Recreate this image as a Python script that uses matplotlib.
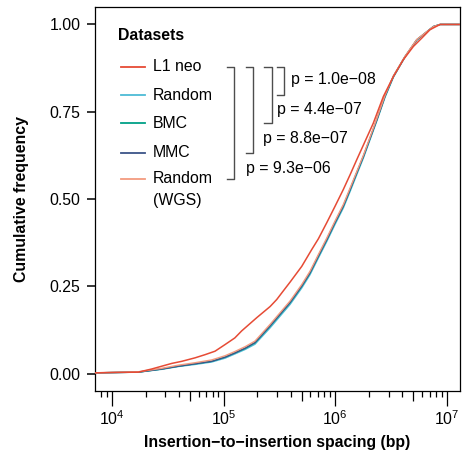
import matplotlib
matplotlib.use("Agg")
import matplotlib.pyplot as plt
from matplotlib.ticker import FixedLocator, FixedFormatter, NullFormatter

plt.rcParams["font.family"] = ["Liberation Sans", "DejaVu Sans"]
plt.rcParams["font.size"] = 11.4

# ---- data (spacing in bp -> cumulative frequency)
l1_bp = [7000, 10000, 17200, 22700, 27900, 34300, 42200, 55500, 68100, 83800,
         103000, 126000, 145000, 198000, 261000, 299000, 343000, 394000, 501000,
         615000, 706000, 839000, 995000, 1.18e6, 1.36e6, 1.56e6, 2.19e6, 2.70e6,
         3.32e6, 4.07e6, 5.01e6, 5.96e6, 7.06e6, 8.69e6, 1.4e7]
l1_neo = [0.002, 0.003, 0.004, 0.013, 0.021, 0.029, 0.035, 0.045, 0.054, 0.064,
          0.083, 0.102, 0.122, 0.160, 0.192, 0.212, 0.237, 0.262, 0.307,
          0.355, 0.386, 0.432, 0.479, 0.527, 0.570, 0.613, 0.717, 0.794,
          0.851, 0.899, 0.937, 0.961, 0.985, 1.0, 1.0]

ctrl_bp = [7000, 17200, 27900, 39300, 55500, 78200, 103000, 126000, 156000, 191000,
           261000, 394000, 501000, 594000, 706000, 839000, 995000, 1.18e6, 1.36e6,
           1.56e6, 1.79e6, 2.36e6, 2.79e6, 3.32e6, 4.22e6, 5.37e6, 7.57e6, 8.69e6, 1.4e7]
random_ = [0.002, 0.004, 0.012, 0.020, 0.026, 0.033, 0.044, 0.056, 0.069, 0.084,
           0.131, 0.198, 0.245, 0.283, 0.331, 0.378, 0.427, 0.474, 0.522,
           0.570, 0.618, 0.724, 0.791, 0.849, 0.907, 0.955, 0.994, 1.0, 1.0]
bmc = [0.002, 0.004, 0.013, 0.021, 0.028, 0.035, 0.047, 0.059, 0.072, 0.088,
       0.136, 0.203, 0.250, 0.288, 0.336, 0.383, 0.432, 0.479, 0.527,
       0.575, 0.622, 0.727, 0.794, 0.851, 0.908, 0.956, 0.994, 1.0, 1.0]
mmc = [0.002, 0.004, 0.013, 0.021, 0.028, 0.035, 0.047, 0.059, 0.073, 0.089,
       0.137, 0.204, 0.251, 0.289, 0.337, 0.384, 0.433, 0.480, 0.528,
       0.576, 0.623, 0.728, 0.795, 0.852, 0.908, 0.956, 0.994, 1.0, 1.0]
random_wgs = [0.002, 0.005, 0.015, 0.024, 0.031, 0.039, 0.051, 0.063, 0.077, 0.093,
              0.141, 0.208, 0.255, 0.293, 0.341, 0.388, 0.437, 0.484, 0.532,
              0.579, 0.626, 0.731, 0.797, 0.853, 0.909, 0.957, 0.994, 1.0, 1.0]

labels = ["L1 neo", "Random", "BMC", "MMC", "Random\n(WGS)"]
colors = ["#E64B35", "#4DBBD5", "#00A087", "#3C5488", "#F39B7F"]
p_values = ["1.0e\u221208", "4.4e\u221207", "8.8e\u221207", "9.3e\u221206"]

y_ticks = [0, 0.25, 0.5, 0.75, 1.0]
x_major = [1e4, 1e5, 1e6, 1e7]
x_labels = ["$\\mathregular{10^{4}}$", "$\\mathregular{10^{5}}$",
            "$\\mathregular{10^{6}}$", "$\\mathregular{10^{7}}$"]

W, H = 465, 459
fig = plt.figure(figsize=(W / 100, H / 100), dpi=100)
L, T, R, B = 95, 7, 460, 391
ax = fig.add_axes([L / W, 1 - B / H, (R - L) / W, (B - T) / H])


def axy(px, py):
    # pixel position in the figure -> axes fraction
    return (px - L) / (R - L), (B - py) / (B - T)


# controls first, L1 neo on top
series = [random_, bmc, mmc, random_wgs]
for ys, c, z in zip(series, colors[1:], [2, 3, 4, 5]):
    ax.plot(ctrl_bp, ys, color=c, lw=1.0, zorder=z)
ax.plot(l1_bp, l1_neo, color=colors[0], lw=1.1, zorder=6)

ax.set_xscale("log")
ax.set_xlim(7050, 1.31e7)
ax.set_ylim(-0.05, 1.05)

ax.yaxis.set_major_locator(FixedLocator(y_ticks))
ax.set_yticklabels([f"{v:.2f}" for v in y_ticks])
ax.xaxis.set_major_locator(FixedLocator(x_major))
ax.xaxis.set_major_formatter(FixedFormatter(x_labels))

mid = [5 * 10 ** e for e in range(3, 7)]
short = [m * 10 ** e for e in range(3, 7) for m in (2, 3, 4, 6, 7, 8, 9)]
ax.xaxis.set_minor_locator(FixedLocator(mid))
ax.xaxis.set_minor_formatter(NullFormatter())
ax.tick_params(axis="x", which="major", length=10.8, width=0.9, pad=2.5, color="black")
ax.tick_params(axis="x", which="minor", length=7.5, width=0.9, color="black")
ax.tick_params(axis="y", which="major", length=5.5, width=1.1, pad=5, color="black")
ax.tick_params(labelsize=11.4, labelcolor="black")

sec = ax.secondary_xaxis("bottom")
sec.xaxis.set_major_locator(FixedLocator(short))
sec.xaxis.set_major_formatter(NullFormatter())
sec.xaxis.set_minor_locator(FixedLocator([]))
sec.tick_params(axis="x", which="major", length=4.3, width=0.9, color="black")
sec.spines["bottom"].set_visible(False)

for s in ax.spines.values():
    s.set_linewidth(0.9)
    s.set_color("black")

ax.set_xlabel("Insertion\u2212to\u2212insertion spacing (bp)", fontweight="bold", fontsize=11.4)
ax.xaxis.set_label_coords(0.5, axy(0, 443)[1], transform=ax.transAxes)
ax.xaxis.label.set_va("center")
fig.text(21.5 / W, 1 - (T + B) / 2 / H, "Cumulative frequency", rotation=90,
         ha="center", va="center", fontweight="bold", fontsize=11.4)

# ---- legend drawn by hand
ax.text(*axy(118, 35), "Datasets", fontweight="bold", ha="left", va="center",
        transform=ax.transAxes)
rows = [66.7, 95, 123.3, 152.7, 179.3]
for lab, c, ry in zip(labels, colors, rows):
    x0, y0 = axy(120.7, ry)
    x1, _ = axy(145, ry)
    ax.plot([x0, x1], [y0, y0], color=c, lw=1.3, transform=ax.transAxes, clip_on=False)
    two_lines = "\n" in lab
    ax.text(*axy(152.7, ry - 8.5 if two_lines else ry), lab, ha="left",
            va="top" if two_lines else "center", linespacing=1.6,
            transform=ax.transAxes)

# ---- brackets with p-values
br_x = [284.3, 271.7, 253.3, 234.3]
br_bottom = [rows[1], rows[2], rows[3], rows[4]]
p_pos = [(290.7, 79.3), (276.7, 109.3), (263.3, 138.3), (246, 169)]
for bx, bb, pv, (tx, ty) in zip(br_x, br_bottom, p_values, p_pos):
    xs = [bx - 7.5, bx, bx, bx - 7.5]
    ys = [rows[0], rows[0], bb, bb]
    pts = [axy(a, b) for a, b in zip(xs, ys)]
    ax.plot([p[0] for p in pts], [p[1] for p in pts], color="#4D4D4D", lw=1.0,
            transform=ax.transAxes, clip_on=False)
    ax.text(*axy(tx, ty), "p = " + pv, ha="left", va="center", transform=ax.transAxes)

fig.savefig("out.png", dpi=100)
